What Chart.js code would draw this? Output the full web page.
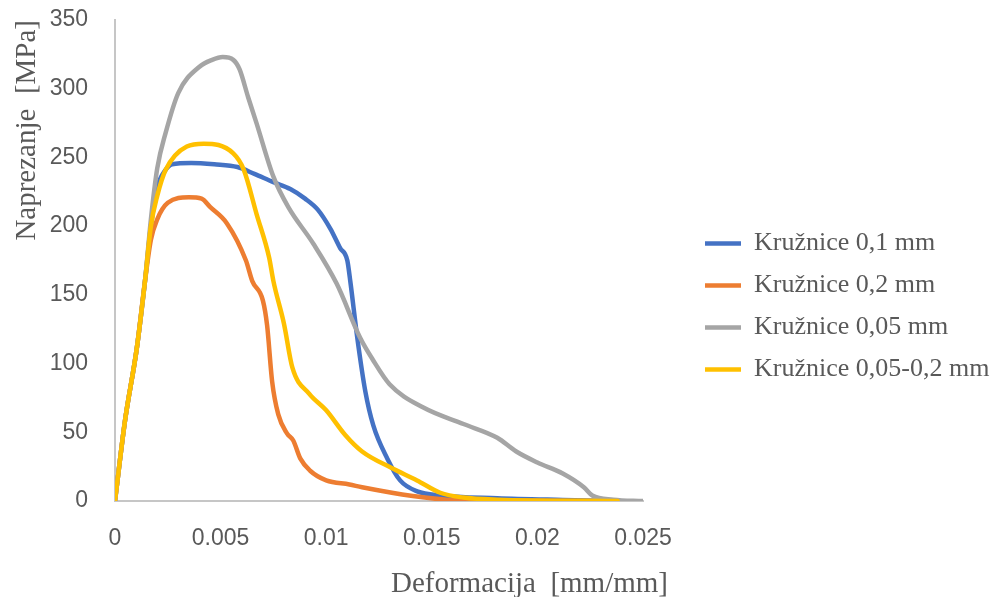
<!DOCTYPE html>
<html>
<head>
<meta charset="utf-8">
<script src="https://cdn.jsdelivr.net/npm/chart.js@4.4.1/dist/chart.umd.min.js"></script>
<style>
  html, body { margin: 0; padding: 0; background: #fff; }
  #wrap { width: 993px; height: 597px; }
</style>
</head>
<body>
<div id="wrap"><canvas id="chart"></canvas></div>
<script>
// series labels
const seriesNames = ["Kružnice 0,1 mm", "Kružnice 0,2 mm", "Kružnice 0,05 mm", "Kružnice 0,05-0,2 mm"];
const seriesColors = ["#4472C4", "#ED7D31", "#A5A5A5", "#FFC000"];

// Kružnice 0,1 mm
const blueX = [0, 0.00047, 0.00104, 0.00142, 0.0017, 0.002, 0.0024, 0.0027, 0.0036, 0.0047, 0.0058, 0.0066, 0.0075, 0.0083, 0.009, 0.0096, 0.0102, 0.01066, 0.011, 0.01114, 0.01147, 0.01185, 0.01223, 0.01289, 0.0135, 0.01431, 0.0154, 0.0181, 0.0212, 0.0238];
const blueY = [0, 58, 112, 160, 200, 228, 241, 245, 246, 245, 243, 238, 232, 227, 220, 212, 198, 184, 175, 160, 119, 80, 55, 31, 15, 7, 4, 2, 0.8, 0];

// Kružnice 0,2 mm
const orangeX = [0, 0.00047, 0.00104, 0.00142, 0.0017, 0.002, 0.0025, 0.0035, 0.0041, 0.0045, 0.0053, 0.0062, 0.0065, 0.007, 0.0072, 0.00744, 0.00773, 0.00815, 0.00844, 0.00877, 0.00924, 0.01, 0.0111, 0.0117, 0.0141, 0.0157, 0.0185, 0.0238];
const orangeY = [0, 58, 112, 160, 190, 205, 217, 221, 220, 214, 202, 175, 160, 146, 128, 87, 63, 49, 44, 31, 22, 15, 12, 10, 3.6, 1, 0.3, 0];

// Kružnice 0,05 mm
const grayX = [0, 0.00047, 0.00104, 0.00142, 0.0017, 0.002, 0.0024, 0.003, 0.004, 0.0046, 0.0051, 0.0056, 0.0059, 0.0063, 0.0067, 0.0075, 0.0082, 0.0094, 0.0105, 0.0116, 0.0122, 0.013, 0.0146, 0.0165, 0.0181, 0.019, 0.02, 0.0212, 0.0222, 0.0226, 0.0236, 0.025];
const grayY = [0, 58, 112, 160, 205, 242, 268, 297, 316, 321, 323, 321, 314, 294, 275, 236, 214, 187, 158, 119, 103, 85, 68, 56, 46, 36, 28, 20, 10, 4, 1, 0];

// Kružnice 0,05-0,2 mm
const yellowX = [0, 0.00047, 0.00104, 0.00142, 0.0017, 0.002, 0.0024, 0.0034, 0.0042, 0.0056, 0.0061, 0.0067, 0.0073, 0.0075, 0.008, 0.0084, 0.0092, 0.01, 0.0109, 0.0117, 0.0131, 0.0143, 0.0154, 0.0165, 0.0181, 0.0238];
const yellowY = [0, 58, 112, 160, 200, 222, 241, 258, 260, 253, 241, 209, 177, 160, 129, 97, 78, 66, 48, 36, 24, 15, 6, 2.5, 1, 0];

// axis ticks
const xTickLabels = ["0", "0.005", "0.01", "0.015", "0.02", "0.025"];
const yTickLabels = ["0", "50", "100", "150", "200", "250", "300", "350"];
const xTitle = "Deformacija  [mm/mm]";
const yTitle = "Naprezanje  [MPa]";

const textGray = "#595959";
const axisGray = "#c6c6c6";

const toPoints = (xs, ys) => xs.map((x, i) => ({ x: x, y: ys[i] }));
const allX = [blueX, orangeX, grayX, yellowX];
const allY = [blueY, orangeY, grayY, yellowY];

const datasets = seriesNames.map((name, i) => ({
  label: name,
  data: toPoints(allX[i], allY[i]),
  showLine: true,
  borderColor: seriesColors[i],
  backgroundColor: seriesColors[i],
  borderWidth: 4.5,
  borderCapStyle: "round",
  borderJoinStyle: "round",
  pointRadius: 0,
  cubicInterpolationMode: "monotone",
  order: seriesNames.length - i
}));

// x axis title sits right of centre in the original, so draw it by hand
const xTitlePlugin = {
  id: "xTitle",
  afterDraw(chart) {
    const { ctx, chartArea } = chart;
    ctx.save();
    ctx.font = "29px 'Liberation Serif'";
    ctx.fillStyle = textGray;
    ctx.textAlign = "right";
    ctx.textBaseline = "alphabetic";
    ctx.fillText(xTitle, chartArea.right + 25, chartArea.bottom + 91);
    ctx.restore();
  }
};

new Chart(document.getElementById("chart"), {
  type: "scatter",
  data: { datasets: datasets },
  plugins: [xTitlePlugin],
  options: {
    responsive: true,
    maintainAspectRatio: false,
    animation: false,
    layout: { padding: { top: 16, right: 0, bottom: 0, left: 0 } },
    plugins: {
      tooltip: { enabled: false },
      legend: {
        position: "right",
        maxWidth: 304,
        labels: {
          usePointStyle: true,
          pointStyle: "line",
          pointStyleWidth: 36,
          padding: 16,
          color: textGray,
          font: { family: "'Liberation Serif'", size: 26 },
          sort: (a, b) => a.datasetIndex - b.datasetIndex
        }
      }
    },
    scales: {
      x: {
        type: "linear",
        min: 0,
        max: 0.025,
        grid: { display: false, drawTicks: false },
        border: { display: true, color: axisGray, width: 2 },
        afterFit: (s) => { s.height = 96; },
        ticks: {
          stepSize: 0.005,
          padding: 24,
          maxRotation: 0,
          color: textGray,
          font: { family: "'Liberation Sans'", size: 23 },
          callback: (v, i) => xTickLabels[i]
        }
      },
      y: {
        min: 0,
        max: 350,
        grid: { display: false, drawTicks: false },
        border: { display: true, color: axisGray, width: 2 },
        afterFit: (s) => { s.width = 115; s.paddingTop = 20; s.paddingBottom = 0; },
        title: {
          display: true,
          text: yTitle,
          align: "end",
          color: textGray,
          font: { family: "'Liberation Serif'", size: 29 },
          padding: { top: 10, bottom: 4 }
        },
        ticks: {
          stepSize: 50,
          padding: 27,
          color: textGray,
          font: { family: "'Liberation Sans'", size: 23 },
          callback: (v, i) => yTickLabels[i]
        }
      },
      spacer: {
        type: "linear",
        position: "right",
        display: true,
        grid: { display: false, drawTicks: false },
        border: { display: false },
        ticks: { display: false },
        afterFit: (s) => { s.width = 46; s.paddingTop = 0; s.paddingBottom = 0; }
      }
    }
  }
});
</script>
</body>
</html>
